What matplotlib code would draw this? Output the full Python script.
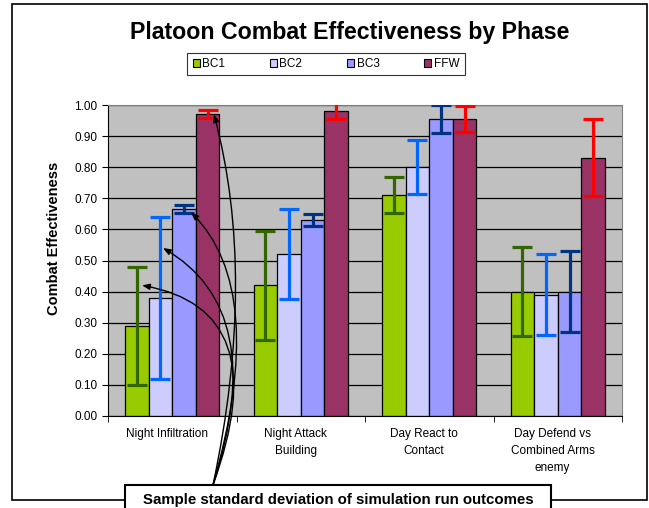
import numpy as np
import matplotlib.pyplot as plt
from matplotlib.patches import Patch, Rectangle

plt.rcParams['font.family'] = ['Liberation Sans', 'DejaVu Sans']

# --- data ---
phases = ["Night Infiltration", "Night Attack\nBuilding", "Day React to\nContact",
          "Day Defend vs\nCombined Arms\nenemy"]
series = ["BC1", "BC2", "BC3", "FFW"]
bc1 = [0.29, 0.42, 0.71, 0.40]
bc2 = [0.38, 0.52, 0.80, 0.39]
bc3 = [0.665, 0.63, 0.955, 0.40]
ffw = [0.97, 0.98, 0.955, 0.83]
bc1_sd = [0.19, 0.175, 0.057, 0.143]
bc2_sd = [0.26, 0.145, 0.087, 0.13]
bc3_sd = [0.012, 0.02, 0.045, 0.13]
ffw_sd = [0.013, 0.025, 0.042, 0.124]

bar_colors = ["#99cc00", "#ccccff", "#9999ff", "#993366"]
err_colors = ["#336600", "#0066ff", "#003380", "#ff0000"]

# arrow tips (first phase) for the annotation
tip_values = [0.42, 0.54, 0.655, 0.97]
tip_shift = [0.04, 0.02, 0.055, 0.05]
start_angles = [70, 72, 74, 78]
tip_angles = [-10, -30, -45, -75]

values = [bc1, bc2, bc3, ffw]
sds = [bc1_sd, bc2_sd, bc3_sd, ffw_sd]

fig = plt.figure(figsize=(6.49, 5.08), dpi=100)
ax = fig.add_axes([108 / 649, 1 - 416 / 508, 514 / 649, 311 / 508])
ax.set_facecolor("#c0c0c0")

x = np.arange(len(phases))
w = 0.183
for i, name in enumerate(series):
    pos = x + (i - 1.5) * w
    ax.bar(pos, values[i], w, color=bar_colors[i], edgecolor="black", linewidth=0.9,
           zorder=2, label=name)
    ax.errorbar(pos, values[i], yerr=sds[i], fmt="none", ecolor=err_colors[i],
                elinewidth=2.3, capsize=7.5, capthick=2.3, zorder=3)

ax.set_ylim(0, 1.0)
ax.set_xlim(-0.5, len(phases) - 0.5)
ax.set_yticks(np.arange(0, 1.01, 0.1))
ax.set_yticklabels([f"{v:.2f}" for v in np.arange(0, 1.01, 0.1)], fontsize=8.5)
ax.yaxis.grid(True, color="black", linewidth=0.9, zorder=0)
ax.set_axisbelow(True)

ax.set_xticks(x - 0.04)
ax.set_xticklabels(phases, fontsize=8.5, va="top", linespacing=1.55)
ax.set_xticks(np.arange(-0.5, len(phases), 1.0), minor=True)
ax.tick_params(axis="x", which="major", length=0, pad=9)
ax.tick_params(axis="x", which="minor", length=4, direction="out")
ax.tick_params(axis="y", length=4, direction="out")

for s in ["top", "right"]:
    ax.spines[s].set_color("#808080")
for s in ["left", "bottom"]:
    ax.spines[s].set_color("black")

ax.set_ylabel("Combat Effectiveness", fontsize=10.5, fontweight="bold")
ax.yaxis.set_label_coords(-0.092, 0.57)

fig.text(350 / 649, 1 - 32 / 508, "Platoon Combat Effectiveness by Phase",
         ha="center", va="center", fontsize=16.7, fontweight="bold")

handles = [Patch(facecolor=c, edgecolor="black", linewidth=0.8) for c in bar_colors]
leg = ax.legend(handles, series, loc="center", bbox_to_anchor=(326 / 649, 1 - 64 / 508),
                bbox_transform=fig.transFigure, ncol=4, fontsize=8.5, frameon=True,
                fancybox=False, handlelength=0.6, handleheight=0.6, handletextpad=0.2,
                columnspacing=3.8, borderpad=0.45)
leg.get_frame().set_edgecolor("black")
leg.get_frame().set_linewidth(0.8)

# outer chart border
fig.add_artist(Rectangle((12 / 649, 8 / 508), 635 / 649, 496 / 508, fill=False,
                         edgecolor="black", linewidth=1.2, transform=fig.transFigure))

# annotation arrows to the first phase error bars
for i in range(len(series)):
    tip_x = x[0] + (i - 1.5) * w + tip_shift[i]
    ax.annotate("", xy=(tip_x, tip_values[i]), xytext=(213, 23),
                textcoords="figure pixels", annotation_clip=False,
                arrowprops=dict(arrowstyle="-|>,head_length=0.45,head_width=0.18",
                                color="black", lw=1.0, shrinkA=0, shrinkB=0,
                                connectionstyle=f"angle3,angleA={start_angles[i]},"
                                                f"angleB={tip_angles[i]}"),
                zorder=5)

# annotation box at the bottom
fig.add_artist(Rectangle((125 / 649, -10 / 508), 426 / 649, 33 / 508, facecolor="white",
                         edgecolor="black", linewidth=1.5, transform=fig.transFigure,
                         zorder=6))
fig.text(338 / 649, 4 / 508, "Sample standard deviation of simulation run outcomes",
         ha="center", va="baseline", fontsize=10.8, fontweight="bold", zorder=7)

fig.savefig("out.png", dpi=100)
